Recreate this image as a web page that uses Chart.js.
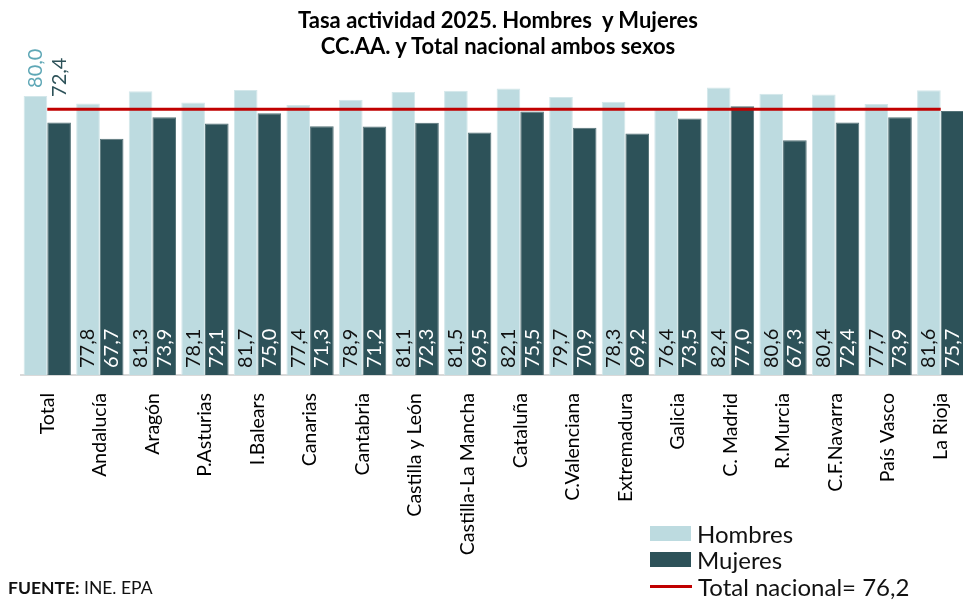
<!DOCTYPE html>
<html lang="es">
<head>
<meta charset="utf-8">
<title>Tasa actividad 2025</title>
<script src="https://cdn.jsdelivr.net/npm/chart.js@4.4.1/dist/chart.umd.min.js"></script>
<style>
  html, body { margin: 0; padding: 0; overflow: hidden; background: #fff; }
  #contenedor { position: relative; width: 968px; height: 600px; }
  #titulo { position: absolute; left: 298px; width: 400px; top: 7px; text-align: center; font: bold 22px/26px Lato, sans-serif; color: #000; white-space: nowrap; }
  #fuente { position: absolute; left: 8px; top: 577px; font: 17.5px Lato, sans-serif; color: #111; white-space: nowrap; }
  #leyenda { position: absolute; left: 650px; top: 520px; font: 24px Lato, sans-serif; color: #111; white-space: nowrap; }
  .item { display: flex; align-items: center; height: 26.5px; }
  .muestra { width: 41px; height: 15px; margin-right: 6px; }
  .linea { width: 42px; height: 3px; margin-right: 6px; }
</style>
</head>
<body>
<div id="contenedor">
  <canvas id="grafico" width="968" height="600"></canvas>
  <div id="titulo">Tasa actividad 2025. Hombres&nbsp; y Mujeres<br>CC.AA. y Total nacional ambos sexos</div>
  <div id="leyenda"></div>
  <div id="fuente"><b>FUENTE:</b> INE. EPA</div>
</div>
<script>
const categorias = [
  'Total', 'Andalucía', 'Aragón', 'P.Asturias', 'I.Balears', 'Canarias',
  'Cantabria', 'Castilla y León', 'Castilla-La Mancha', 'Cataluña',
  'C.Valenciana', 'Extremadura', 'Galicia', 'C. Madrid', 'R.Murcia',
  'C.F.Navarra', 'País Vasco', 'La Rioja',
];
const hombres = [80.0, 77.8, 81.3, 78.1, 81.7, 77.4, 78.9, 81.1, 81.5, 82.1, 79.7, 78.3, 76.4, 82.4, 80.6, 80.4, 77.7, 81.6];
const mujeres = [72.4, 67.7, 73.9, 72.1, 75.0, 71.3, 71.2, 72.3, 69.5, 75.5, 70.9, 69.2, 73.5, 77.0, 67.3, 72.4, 73.9, 75.7];
const totalNacional = 76.2;

const COLOR_HOMBRES = '#bddbe0';
const COLOR_MUJERES = '#2d5259';
const COLOR_TOTAL = '#c00000';

const formato = v => v.toFixed(1).replace('.', ',');

Chart.defaults.font.family = 'Lato, sans-serif';

// --- Etiquetas de valor en vertical dentro de las barras ---
const etiquetasBarras = {
  id: 'etiquetasBarras',
  afterDatasetsDraw(chart) {
    const ctx = chart.ctx;
    const base = chart.scales.y.getPixelForValue(0);
    const topeTotal = chart.getDatasetMeta(0).data[0].y;
    ctx.save();
    ctx.font = '20px Lato, sans-serif';
    ctx.textBaseline = 'middle';
    ctx.textAlign = 'left';
    [0, 1].forEach(ds => {
      chart.getDatasetMeta(ds).data.forEach((barra, i) => {
        const valor = chart.data.datasets[ds].data[i];
        let y = base - 7;
        let color = ds === 0 ? '#111' : '#fff';
        if (i === 0) {
          // en el total las etiquetas van encima de la barra
          y = ds === 0 ? topeTotal - 8 : topeTotal + 1;
          color = ds === 0 ? '#5ea7b6' : COLOR_MUJERES;
        }
        ctx.save();
        ctx.translate(barra.x, y);
        ctx.rotate(-Math.PI / 2);
        ctx.fillStyle = color;
        ctx.fillText(formato(valor), 0, 0);
        ctx.restore();
      });
    });
    ctx.restore();
  },
};

const grafico = new Chart(document.getElementById('grafico'), {
  type: 'bar',
  data: {
    labels: categorias,
    datasets: [
      {
        label: 'Hombres',
        data: hombres,
        backgroundColor: COLOR_HOMBRES,
        borderColor: '#d3e7ea',
        borderWidth: 1,
        categoryPercentage: 0.9,
        barPercentage: 1.0,
        order: 1,
      },
      {
        label: 'Mujeres',
        data: mujeres,
        backgroundColor: COLOR_MUJERES,
        borderColor: '#557378',
        borderWidth: 1,
        categoryPercentage: 0.9,
        barPercentage: 1.0,
        order: 1,
      },
      {
        type: 'line',
        label: 'Total nacional= ' + formato(totalNacional),
        data: [
          { x: categorias[0], y: totalNacional },
          { x: categorias[categorias.length - 1], y: totalNacional },
        ],
        borderColor: COLOR_TOTAL,
        backgroundColor: COLOR_TOTAL,
        borderWidth: 3,
        pointRadius: 0,
        order: 0,
      },
    ],
  },
  options: {
    responsive: false,
    animation: false,
    layout: { padding: { left: 21, right: 1, top: 61, bottom: 0 } },
    plugins: {
      legend: { display: false },
      tooltip: { enabled: false },
      title: { display: false },
    },
    scales: {
      x: {
        grid: { display: false, drawTicks: false },
        border: { display: true, color: '#d9d9d9', width: 2 },
        ticks: {
          autoSkip: false,
          maxRotation: 90,
          minRotation: 90,
          padding: 18,
          color: '#000',
          font: { size: 19.5 },
        },
        afterFit: escala => {
          escala.height = 225;
          escala.paddingLeft = 0;
          escala.paddingRight = 0;
        },
      },
      y: { display: false, min: 0, max: 90 },
    },
  },
  plugins: [etiquetasBarras],
});

// --- Leyenda ---
const leyenda = document.getElementById('leyenda');
grafico.data.datasets.forEach(ds => {
  const tipo = ds.type === 'line' ? 'linea' : 'muestra';
  leyenda.innerHTML += `<div class="item"><span class="${tipo}" style="background:${ds.backgroundColor}"></span><span>${ds.label}</span></div>`;
});
</script>
</body>
</html>
